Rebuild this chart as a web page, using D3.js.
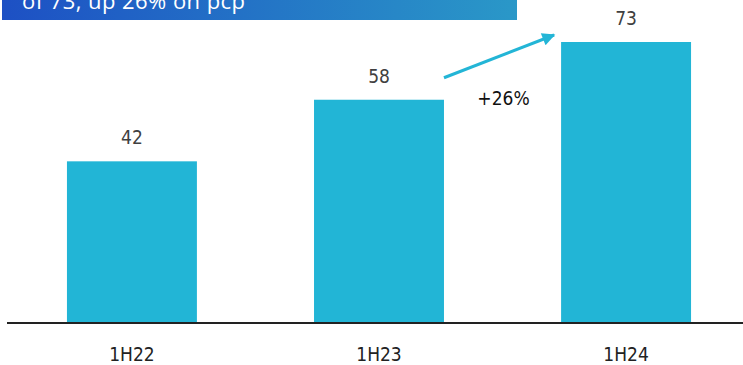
<!DOCTYPE html>
<html><head><meta charset="utf-8">
<script src="https://cdn.jsdelivr.net/npm/d3@7"></script>
<style>body{margin:0;background:#fff}svg{display:block}</style>
</head><body>
<svg id="c" width="743" height="365"></svg>
<script>
const categories = ["1H22", "1H23", "1H24"];
const values = [42, 58, 73];
const valueLabels = ["42", "58", "73"];
const growthLabel = "+26%";
const headerText = "of 73, up 26% on pcp";

const svg = d3.select("#c");
const baseY = 323;

const defs = svg.append("defs");
const g = defs.append("linearGradient").attr("id","hg").attr("x1","0").attr("x2","1").attr("y1","0").attr("y2","0");
g.append("stop").attr("offset","0").attr("stop-color","#1d50c4");
g.append("stop").attr("offset","1").attr("stop-color","#2a98c8");
const m = defs.append("marker").attr("id","ah").attr("viewBox","0 0 10 10").attr("refX","9").attr("refY","5")
  .attr("markerWidth","16").attr("markerHeight","13").attr("markerUnits","userSpaceOnUse").attr("orient","auto");
m.append("path").attr("d","M0,0 L10,5 L0,10 z").attr("fill","#23b5d6");

svg.append("rect").attr("x",2).attr("y",0).attr("width",515).attr("height",20).attr("fill","url(#hg)");
svg.append("text").attr("x",22).attr("y",9).attr("fill","#fff").attr("font-family","'Open Sans', sans-serif")
  .attr("font-size",22).attr("textLength",223).text(headerText);

const x = d3.scaleBand().domain(categories).range([0, 758]).paddingInner(0.474).paddingOuter(0.271);
const y = d3.scaleLinear().domain([0, 73]).range([baseY, 42]);

svg.selectAll("rect.bar").data(values).join("rect").attr("class","bar")
  .attr("x",(d,i)=>x(categories[i])).attr("width",x.bandwidth())
  .attr("y",d=>y(d)).attr("height",d=>baseY-y(d)).attr("fill","#22b5d6");

svg.selectAll("text.val").data(values).join("text").attr("class","val")
  .attr("x",(d,i)=>x(categories[i])+x.bandwidth()/2).attr("y",d=>y(d)-17)
  .attr("text-anchor","middle").attr("fill","#404040").attr("font-family","'DejaVu Sans Condensed', sans-serif")
  .attr("font-size",19).text((d,i)=>valueLabels[i]);

const axis = d3.axisBottom(x).tickSize(0).tickPadding(25);
const ag = svg.append("g").attr("transform",`translate(0,${baseY})`).call(axis);
ag.select(".domain").remove();
ag.append("line").attr("x1",7).attr("x2",743).attr("y1",0).attr("y2",0).attr("stroke","#222").attr("stroke-width",2);
ag.selectAll(".tick text").attr("font-family","'DejaVu Sans Condensed', sans-serif").attr("font-size",19).attr("fill","#222");

// growth arrow
const x1 = x(categories[1]) + x.bandwidth(), x2 = x(categories[2]);
svg.append("line").attr("x1",x1).attr("y1",y(values[1])-22).attr("x2",x2-7).attr("y2",y(values[2])-7)
  .attr("stroke","#23b5d6").attr("stroke-width",3).attr("marker-end","url(#ah)");
svg.append("text").attr("x",(x1+x2)/2+1).attr("y",y(values[1])+5).attr("text-anchor","middle")
  .attr("font-family","'DejaVu Sans Condensed', sans-serif").attr("font-size",19).attr("fill","#111").text(growthLabel);
</script>
</body></html>
